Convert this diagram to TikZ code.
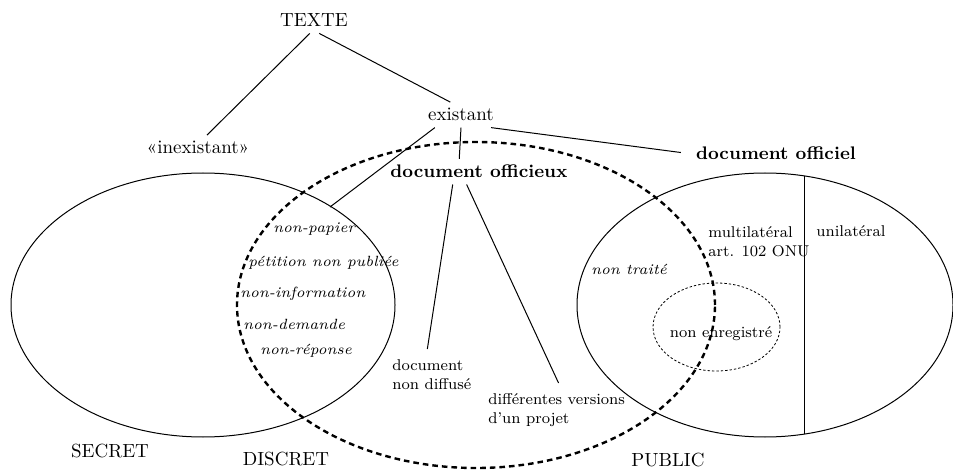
\documentclass[tikz,border=0pt]{standalone}
\begin{document}
\begin{tikzpicture}[x=0.5pt,y=-0.5pt,
  hd/.style={anchor=base, inner sep=3pt, font=\fontsize{9.5}{11}\selectfont},
  bd/.style={anchor=base, inner sep=3pt, font=\fontsize{9.1}{11}\selectfont\bfseries},
  lb/.style={anchor=base, inner sep=3pt, font=\fontsize{7.8}{9.4}\selectfont},
  lbl/.style={anchor=north west, align=left, font=\fontsize{7.8}{9.4}\selectfont},
  ital/.style={anchor=base west, inner sep=0pt, font=\fontsize{7.4}{9}\selectfont\itshape},
  trait/.style={line width=0.5pt},
  officieux/.style={line width=1.2pt, dash pattern=on 2.8pt off 2pt},
  fin/.style={line width=0.4pt, dash pattern=on 1.2pt off 1pt}]
\useasboundingbox (0,0) rectangle (953,470);
\draw[trait] (203,305) ellipse [x radius=96pt, y radius=66pt];
\draw[trait] (765,305) ellipse [x radius=94pt, y radius=66pt];
\draw[fin] (716.5,327) ellipse [x radius=31.75pt, y radius=22pt];
\draw[officieux] (476,305) ellipse [x radius=119.5pt, y radius=81.5pt];
\coordinate (ua) at (804,176);
\coordinate (ub) at (804,434);
\draw[trait](ua) -- (ub);
\node[hd] (texte) at (314,27){TEXTE};
\node[hd] (inex) at (198,154){«inexistant»};
\node[hd] (exist) at (461,121){existant};
\node[bd] (offi) at (776,160){document officiel};
\node[bd] (offx) at (479,178){document officieux};
\node[lbl, inner sep=5pt] (docnd) at (382,349){document\\non diffusé};
\node[lbl, inner sep=5pt] (docdiff) at (478,383){différentes versions\\d’un projet};
\coordinate (npap) at (330,207);
\draw[trait](texte.-108) -- (inex.55);
\draw[trait](texte.-68) -- (exist.130);
\draw[trait](exist.-154) -- (npap);
\draw[trait](exist.-90) -- (offx.147);
\draw[trait, shorten >=4.5pt](exist.-23) -- (offi.west);
\draw[trait](offx.-154) -- (docnd.100);
\draw[trait](offx.-134) -- (docdiff.86);
\node[ital] (np1) at (273,233){non-papier};
\node[ital] (np2) at (248,267){pétition non publiée};
\node[ital] (np3) at (240,298){non-information};
\node[ital] (np4) at (243,329){non-demande};
\node[ital] (np5) at (260,354){non-réponse};
\node[ital] (ntr) at (591,275){non traité};
\node[lbl, inner sep=0pt] (multi) at (708,226){multilatéral\\art. 102 ONU};
\node[lb] (uni) at (851,237){unilatéral};
\node[lb] (nenr) at (721,337){non enregistré};
\node[hd] (secret) at (110,457){SECRET};
\node[hd] (discret) at (286,465){DISCRET};
\node[hd] (public) at (668,466){PUBLIC};
\end{tikzpicture}
\end{document}
